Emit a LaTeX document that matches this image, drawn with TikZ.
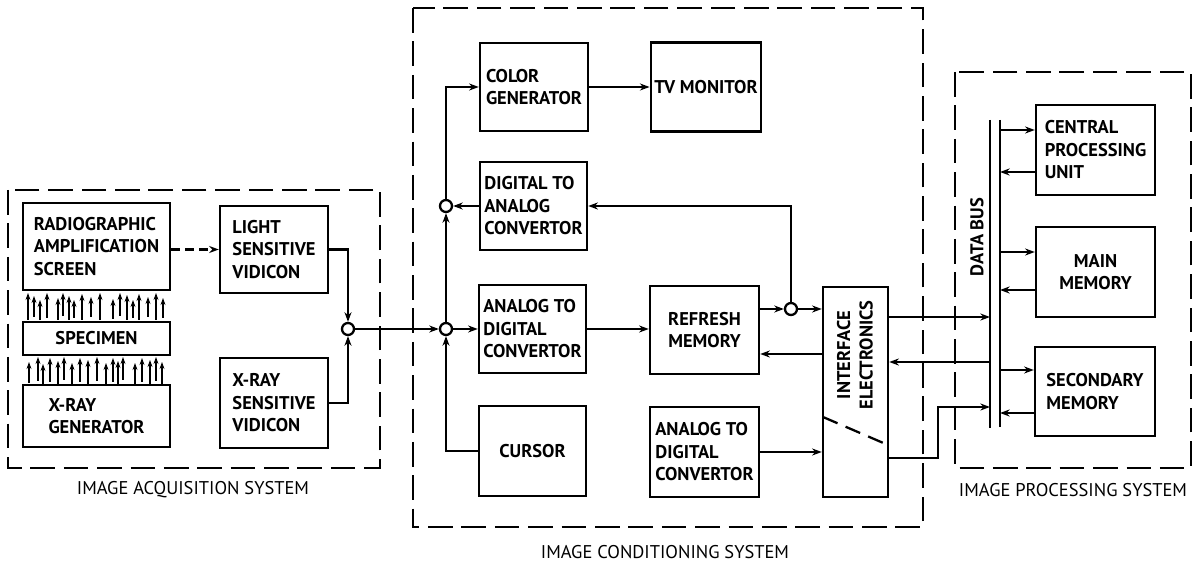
\documentclass[tikz,border=0pt]{standalone}
\usepackage{fontspec}
\setmainfont{PT Sans}
\usetikzlibrary{arrows.meta}

\begin{document}
\begin{tikzpicture}[x=0.02cm,y=-0.02cm,
  box/.style={draw,line width=1.4pt,align=left,inner sep=2pt,
              font=\bfseries\fontsize{10.5}{12.8}\selectfont},
  grp/.style={draw,line width=1.4pt,dash pattern=on 14pt off 5pt},
  arr/.style={-{Stealth[length=5.5pt,width=4pt]},line width=1.3pt},
  dasharr/.style={arr,dash pattern=on 5pt off 3pt},
  junc/.style={draw,circle,line width=1.3pt,fill=white,minimum size=0.24cm,inner sep=0pt},
  lbl/.style={font=\fontsize{10.5}{12}\selectfont},
  ray/.style={-{Stealth[length=4pt,width=2.8pt]},line width=1pt}]
  \useasboundingbox (0,0) rectangle (1194,567);
  % system frames
  \draw[grp] (8,190) rectangle (380,468);
  \draw[grp] (413,8) rectangle (923,527);
  \draw[grp] (955,72) rectangle (1191,468);
  \node[lbl](acqlbl) at (193,490) {IMAGE ACQUISITION SYSTEM};
  \node[lbl](conlbl) at (665,552) {IMAGE CONDITIONING SYSTEM};
  \node[lbl](prclbl) at (1073,490) {IMAGE PROCESSING SYSTEM};
  % acquisition
  \node[box,minimum width=2.94cm,minimum height=1.74cm](rad) at (96.5,246.5) {RADIOGRAPHIC\\AMPLIFICATION\\SCREEN};
  \node[box,minimum width=2.94cm,minimum height=0.66cm](spec) at (96.5,338.5) {SPECIMEN};
  \node[box,minimum width=2.94cm,minimum height=1.24cm](xgen) at (96.5,416) {X-RAY\\GENERATOR};
  \node[box,minimum width=2.16cm,minimum height=1.74cm](lsv) at (274,249.5) {LIGHT\\SENSITIVE\\VIDICON};
  \node[box,minimum width=2.16cm,minimum height=1.8cm](xsv) at (274,403) {X-RAY\\SENSITIVE\\VIDICON};
  \foreach \x/\a/\b in {28/320/293,34/317/296,40/320/300,47/318/293,58/320/298,63/316/293,
      69/320/296,74/318/300,82/320/294,91/317/297,100/320/293,113/319/299,120/316/293,
      127/320/295,133/318/300,139/320/294,148/317/297,156/320/293,163/318/298}
    \draw[ray] (\x,\a) -- (\x,\b);
  \foreach \x/\a/\b in {29/383/362,38/381/357,43/384/364,50/382/358,58/384/361,64/380/357,
      72/384/363,80/382/358,88/384/360,97/381/357,106/384/363,113/382/358,118/384/361,
      123/380/357,135/384/363,142/382/358,150/384/360,156/381/357,162/384/362}
    \draw[ray] (\x,\a) -- (\x,\b);
  \node[junc](j1) at (348,329) {};
  % conditioning
  \node[box,minimum width=2.16cm,minimum height=1.76cm](colgen) at (534,87) {COLOR\\GENERATOR};
  \node[box,minimum width=2.2cm,minimum height=1.78cm](tv) at (706,87) {TV MONITOR};
  \node[box,minimum width=2.14cm,minimum height=1.76cm](dac) at (533.5,206) {DIGITAL TO\\ANALOG\\CONVERTOR};
  \node[box,minimum width=2.14cm,minimum height=1.76cm](adc1) at (532.5,329) {ANALOG TO\\DIGITAL\\CONVERTOR};
  \node[box,minimum width=2.18cm,minimum height=1.76cm,align=center](refresh) at (704.5,330) {REFRESH\\MEMORY};
  \node[box,minimum width=2.14cm,minimum height=1.8cm](cursor) at (532.5,451) {CURSOR};
  \node[box,minimum width=2.18cm,minimum height=1.8cm](adc2) at (704.5,452) {ANALOG TO\\DIGITAL\\CONVERTOR};
  \node[box,minimum width=1.3cm,minimum height=4.2cm](intf) at (855.5,392) {};
  \node[rotate=90,align=center,font=\bfseries\fontsize{10.5}{12.8}\selectfont](intftxt) at (855,355) {INTERFACE\\ELECTRONICS};
  \coordinate (dg1) at (823,417); \coordinate (dg2) at (888,445);
  \draw[line width=1.3pt,dash pattern=on 9pt off 5pt] (dg1) -- (dg2);
  \node[junc](j2) at (446,329) {};
  \node[junc](j3) at (446,206) {};
  \node[junc](j4) at (791,309) {};
  % processing
  \coordinate (busL1) at (990,120); \coordinate (busL2) at (990,428);
  \coordinate (busR1) at (1000,120); \coordinate (busR2) at (1000,427);
  \draw[line width=1.4pt] (busL1) -- (busL2); \draw[line width=1.4pt] (busR1) -- (busR2);
  \node[rotate=90,font=\bfseries\fontsize{10.5}{12.8}\selectfont](bustxt) at (977,237) {DATA BUS};
  \node[box,minimum width=2.38cm,minimum height=1.8cm](cpu) at (1095.5,150) {CENTRAL\\PROCESSING\\UNIT};
  \node[box,minimum width=2.38cm,minimum height=1.8cm,align=center](mmem) at (1095.5,272) {MAIN\\MEMORY};
  \node[box,minimum width=2.4cm,minimum height=1.78cm](smem) at (1095,391.5) {SECONDARY\\MEMORY};
  % connectors
  \draw[dasharr](rad.east |- lsv.west) -- (lsv.west);
  \draw[arr](lsv.east) -| (j1.north); \draw[arr](xsv.east) -| (j1.south);
  \draw[arr](j1.east) -- (j2.west); \draw[arr](cursor.west) -| (j2.south);
  \draw[arr](j2.east) -- (adc1.west); \draw[arr](j2.north) -- (j3.south);
  \draw[arr](dac.west) -- (j3.east); \draw[arr](j3.north) |- (colgen.west);
  \draw[arr](colgen) -- (tv); \draw[arr](adc1.east) -- (adc1.east -| refresh.west);
  \draw[arr](refresh.east |- j4) -- (j4.west); \draw[arr](j4.east) -- (j4 -| intf.west);
  \draw[arr](j4.north) |- (dac.east);
  \coordinate (rb) at ([yshift=-0.48cm]refresh.east);
  \draw[arr](rb -| intf.west) -- (rb);
  \draw[arr](adc2.east) -- (adc2.east -| intf.west);
  \coordinate (ie1) at ([yshift=1.5cm]intf.east);
  \coordinate (ie2) at ([yshift=0.6cm]intf.east);
  \coordinate (ie3) at ([yshift=-1.32cm]intf.east);
  \coordinate (bk) at (938,407);
  \draw[arr](ie1) -- (ie1 -| busL1); \draw[arr](ie2 -| busL1) -- (ie2);
  \draw[arr](ie3) -| (bk) -- (bk -| busL1);
  \foreach \n/\u/\d in {cpu/0.4/-0.44,mmem/0.4/-0.36,smem/0.43/-0.43}{
    \coordinate (bi) at ([yshift=\u cm]\n.west);
    \coordinate (bo) at ([yshift=\d cm]\n.west);
    \draw[arr](bi -| busR1) -- (bi); \draw[arr](bo) -- (bo -| busR1);
  }
\end{tikzpicture}
\end{document}
